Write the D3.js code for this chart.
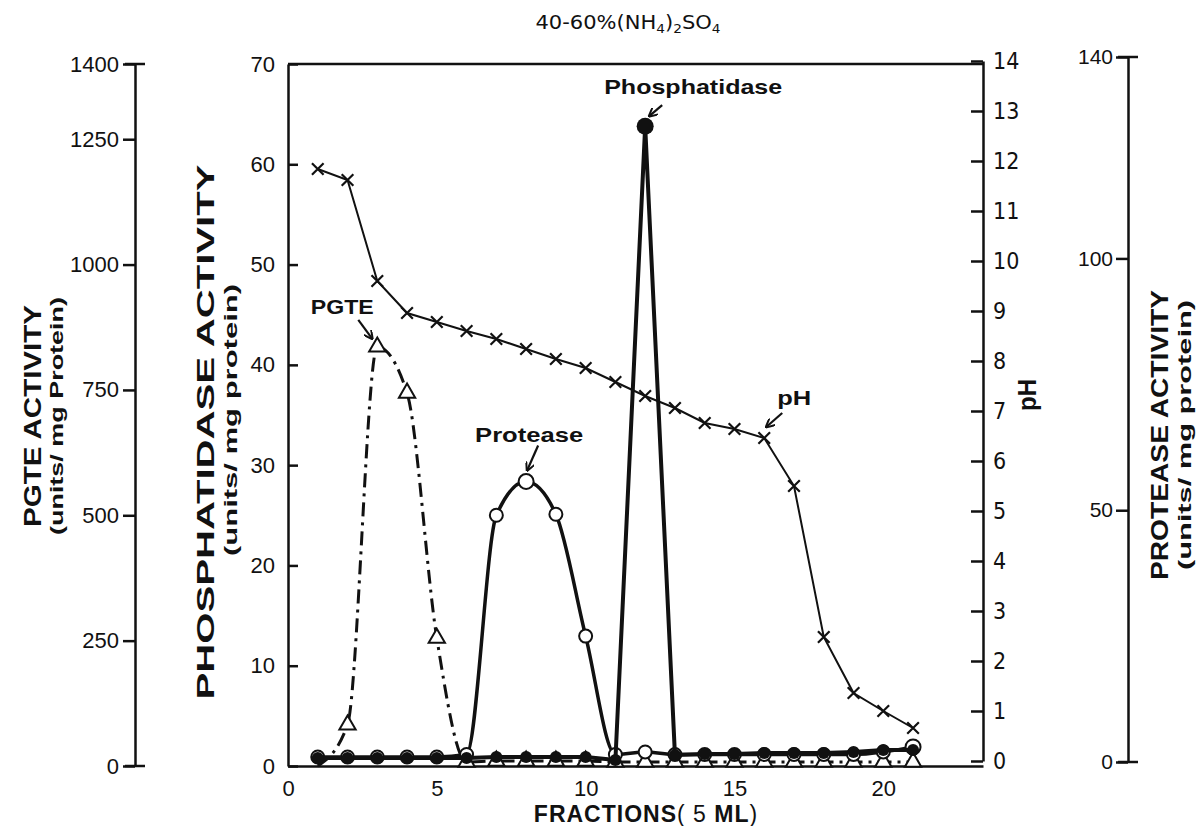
<!DOCTYPE html>
<html>
<head>
<meta charset="utf-8">
<script src="https://cdn.jsdelivr.net/npm/d3@7"></script>
<style>
  body { margin: 0; background: #fff; }
  text { fill: #111; }
</style>
</head>
<body>
<div id="chart"></div>
<script>
//Chromatography profile of the 40-60% ammonium sulphate fraction

//Data, one value per fraction
var fractions = [1, 2, 3, 4, 5, 6, 7, 8, 9, 10, 11, 12, 13, 14, 15, 16, 17, 18, 19, 20, 21];
var phValues = [11.84, 11.62, 9.60, 8.96, 8.78, 8.60, 8.44, 8.24, 8.04, 7.86, 7.58, 7.30, 7.06, 6.76, 6.64, 6.46, 5.50, 2.48, 1.36, 1.00, 0.66];
var phosphatidaseValues = [0.8, 0.8, 0.8, 0.8, 0.8, 0.8, 0.9, 0.9, 0.9, 0.9, 0.6, 63.8, 1.1, 1.2, 1.2, 1.3, 1.3, 1.3, 1.4, 1.6, 1.6];
var proteaseValues = [1, 1, 1, 1, 1, 1.5, 49, 55.7, 49.2, 25, 1.5, 2, 1.5, 1.5, 1.5, 1.5, 1.5, 1.5, 1.5, 2, 3];
var pgteValues = [0, 82, 836, 744, 255, 8, 10, 10, 10, 10, 8, 8, 8, 8, 8, 8, 8, 8, 8, 8, 8];

//Tick labels of the five axes
var fractionTicks = [0, 5, 10, 15, 20];
var pgteTicks = [0, 250, 500, 750, 1000, 1250, 1400];
var phosphatidaseTicks = [0, 10, 20, 30, 40, 50, 60, 70];
var phTicks = [0, 1, 2, 3, 4, 5, 6, 7, 8, 9, 10, 11, 12, 13, 14];
var proteaseTicks = [0, 50, 100, 140];

var svg;
var tickFont = "'Liberation Sans', Arial, sans-serif";
var narrowFont = "'DejaVu Sans Condensed', 'Liberation Sans Narrow', 'Liberation Sans', sans-serif";
var boldFont = "'Liberation Sans', Arial, sans-serif";

function drawChart()
{
    svg = d3.select("#chart").append("svg")
        .attr("width", 1199)
        .attr("height", 826);

    //Scales (plot box goes from x=288 to 983, y=64 to 766)
    var x = d3.scaleLinear().domain([0, 23.35]).range([288, 983]);
    var yPhos = d3.scaleLinear().domain([0, 70]).range([766, 64]);
    var yPgte = d3.scaleLinear().domain([0, 1400]).range([766, 64]);
    var yPh = d3.scaleLinear().domain([0, 14]).range([761, 61]);
    var yProt = d3.scaleLinear().domain([0, 140]).range([762, 57]);
    var plain = d3.format("d");

    //Arrow head for the annotations
    svg.append("defs").append("marker")
        .attr("id", "arrow")
        .attr("viewBox", "0 0 10 10")
        .attr("refX", 9)
        .attr("refY", 5)
        .attr("markerWidth", 9)
        .attr("markerHeight", 9)
        .attr("markerUnits", "userSpaceOnUse")
        .attr("orient", "auto")
        .append("path")
        .attr("d", "M0,0 L10,5 L0,10")
        .attr("fill", "none")
        .attr("stroke", "#111")
        .attr("stroke-width", 2.2);

    //Bottom axis (also the bottom of the frame)
    var xAxis = svg.append("g")
        .attr("transform", "translate(0," + yPhos(0) + ")")
        .call(d3.axisBottom(x).tickValues(fractionTicks).tickFormat(plain).tickSize(0).tickPadding(14));
    styleAxis(xAxis, tickFont, 22);

    //Top of the frame
    svg.append("line")
        .attr("x1", x(0)).attr("x2", x.range()[1])
        .attr("y1", yPhos(70)).attr("y2", yPhos(70))
        .attr("stroke", "#111").attr("stroke-width", 2.5);

    //Phosphatidase axis, ticks pointing inwards
    var phosAxis = svg.append("g")
        .attr("transform", "translate(" + x(0) + ",0)")
        .call(d3.axisLeft(yPhos).tickValues(phosphatidaseTicks).tickFormat(plain).tickSizeInner(-10).tickSizeOuter(0).tickPadding(13));
    styleAxis(phosAxis, tickFont, 22);

    //pH axis on the right of the frame
    var phAxis = svg.append("g")
        .attr("transform", "translate(" + x.range()[1] + ",0)")
        .call(d3.axisRight(yPh).tickValues(phTicks).tickFormat(plain).tickSizeInner(-12).tickSizeOuter(0).tickPadding(10));
    styleAxis(phAxis, narrowFont, 23);

    //Free standing PGTE axis on the far left
    var pgteAxis = svg.append("g")
        .attr("transform", "translate(135,0)")
        .call(d3.axisLeft(yPgte).tickValues(pgteTicks).tickFormat(plain).tickSizeInner(12).tickSizeOuter(0).tickPadding(4));
    styleAxis(pgteAxis, tickFont, 22);
    endBars(pgteAxis, yPgte);

    //Free standing protease axis on the far right
    var protAxis = svg.append("g")
        .attr("transform", "translate(1128,0)")
        .call(d3.axisLeft(yProt).tickValues(proteaseTicks).tickFormat(plain).tickSizeInner(12).tickSizeOuter(0).tickPadding(3));
    styleAxis(protAxis, tickFont, 21);
    endBars(protAxis, yProt);

    //PGTE curve (dash dot)
    var pgteLine = d3.line()
        .x(function(d, i) { return x(fractions[i]); })
        .y(function(d) { return yPgte(d); })
        .curve(d3.curveMonotoneX);

    svg.append("path")
        .attr("d", pgteLine(pgteValues))
        .attr("fill", "none")
        .attr("stroke", "#111")
        .attr("stroke-width", 3)
        .attr("stroke-dasharray", "14,6,3,6");

    //the first triangle sits under the phosphatidase dot in the figure
    svg.selectAll(".pgte")
        .data(pgteValues.slice(1))
        .enter()
        .append("path")
        .attr("class", "pgte")
        .attr("transform", function(d, i) { return "translate(" + x(fractions[i + 1]) + "," + yPgte(d) + ")"; })
        .attr("d", d3.symbol().type(d3.symbolTriangle).size(115))
        .attr("fill", "#fff")
        .attr("stroke", "#111")
        .attr("stroke-width", 2);

    //Protease curve (open circles)
    var protLine = d3.line()
        .x(function(d, i) { return x(fractions[i]); })
        .y(function(d) { return yProt(d); })
        .curve(d3.curveMonotoneX);

    svg.append("path")
        .attr("d", protLine(proteaseValues))
        .attr("fill", "none")
        .attr("stroke", "#111")
        .attr("stroke-width", 3.5);

    svg.selectAll(".prot")
        .data(proteaseValues)
        .enter()
        .append("circle")
        .attr("class", "prot")
        .attr("cx", function(d, i) { return x(fractions[i]); })
        .attr("cy", function(d) { return yProt(d); })
        .attr("r", function(d, i) { return i == 7 || i == 20 ? 7.5 : 6.5; })
        .attr("fill", "#fff")
        .attr("stroke", "#111")
        .attr("stroke-width", 2);

    //Phosphatidase (filled circles, thick line)
    var phosLine = d3.line()
        .x(function(d, i) { return x(fractions[i]); })
        .y(function(d) { return yPhos(d); });

    svg.append("path")
        .attr("d", phosLine(phosphatidaseValues))
        .attr("fill", "none")
        .attr("stroke", "#111")
        .attr("stroke-width", 4)
        .attr("stroke-linejoin", "round");

    svg.selectAll(".phos")
        .data(phosphatidaseValues)
        .enter()
        .append("circle")
        .attr("class", "phos")
        .attr("cx", function(d, i) { return x(fractions[i]); })
        .attr("cy", function(d) { return yPhos(d); })
        .attr("r", function(d) { return d > 10 ? 8.5 : 6; })
        .attr("fill", "#111");

    //pH (crosses, thin line)
    var phLine = d3.line()
        .x(function(d, i) { return x(fractions[i]); })
        .y(function(d) { return yPh(d); });

    svg.append("path")
        .attr("d", phLine(phValues))
        .attr("fill", "none")
        .attr("stroke", "#111")
        .attr("stroke-width", 2);

    var crossType = d3.symbolTimes || d3.symbolX;
    svg.selectAll(".ph")
        .data(phValues)
        .enter()
        .append("path")
        .attr("class", "ph")
        .attr("transform", function(d, i) { return "translate(" + x(fractions[i]) + "," + yPh(d) + ")"; })
        .attr("d", d3.symbol().type(crossType).size(90))
        .attr("fill", "none")
        .attr("stroke", "#111")
        .attr("stroke-width", 2.2);

    //Annotations with arrows
    annotate("Phosphatidase", x(12) + 48, yPhos(63.8) - 32, 178,
        [x(12) + 17, yPhos(63.8) - 21], [x(12) + 4, yPhos(63.8) - 10]);
    annotate("Protease", x(8) + 3, yProt(55.7) - 40, 108,
        [x(8) + 12, yProt(55.7) - 36], [x(8) + 1, yProt(55.7) - 11]);
    annotate("PGTE", x(3) - 35, yPgte(836) - 33, 63,
        [x(3) - 19, yPgte(836) - 27], [x(3) - 5, yPgte(836) - 8]);
    annotate("pH", x(16) + 30, yPh(6.46) - 33, 34,
        [x(16) + 18, yPh(6.46) - 25], [x(16) + 2, yPh(6.46) - 11]);

    //Title
    var title = svg.append("text")
        .attr("x", 628)
        .attr("y", 29)
        .attr("text-anchor", "middle")
        .attr("textLength", 185)
        .attr("lengthAdjust", "spacingAndGlyphs")
        .style("font-family", narrowFont)
        .style("font-size", "20px");
    title.append("tspan").text("40-60%(NH");
    title.append("tspan").attr("dy", 4).style("font-size", "13px").text("4");
    title.append("tspan").attr("dy", -4).text(")");
    title.append("tspan").attr("dy", 4).style("font-size", "13px").text("2");
    title.append("tspan").attr("dy", -4).text("SO");
    title.append("tspan").attr("dy", 4).style("font-size", "13px").text("4");

    //Axis titles
    var xTitle = svg.append("text")
        .attr("x", 646)
        .attr("y", 822)
        .attr("text-anchor", "middle")
        .style("font-family", boldFont)
        .style("font-size", "23px")
        .style("letter-spacing", "1px");
    xTitle.append("tspan").style("font-weight", "bold").text("FRACTIONS");
    xTitle.append("tspan").style("font-weight", "normal").text("( 5 ");
    xTitle.append("tspan").style("font-weight", "bold").text("ML");
    xTitle.append("tspan").style("font-weight", "normal").text(")");

    sideTitle("PGTE ACTIVITY", 41, 416, 24, 222);
    sideTitle("(units/ mg Protein)", 63, 416, 18, 238);
    sideTitle("PHOSPHATIDASE   ACTIVITY", 214, 432, 24, 535);
    sideTitle("(units/ mg protein)", 237, 420, 18, 272);
    sideTitle("pH", 1036, 395, 25, 32);
    sideTitle("PROTEASE ACTIVITY", 1168, 435, 24, 290);
    sideTitle("(units/ mg protein)", 1191, 435, 18, 270);
}

//Apply the look of the scanned figure to an axis group
function styleAxis(g, font, size)
{
    g.attr("font-family", null).attr("font-size", null);
    g.selectAll("path, line")
        .attr("stroke", "#111")
        .attr("stroke-width", 2.5);
    g.selectAll("text")
        .style("font-family", font)
        .style("font-size", size + "px")
        .style("fill", "#111");
}

//Small T shaped caps at both ends of the free axes
function endBars(g, scale)
{
    g.selectAll(".cap")
        .data(scale.domain())
        .enter()
        .append("line")
        .attr("class", "cap")
        .attr("x1", -10).attr("x2", 10)
        .attr("y1", function(d) { return scale(d); })
        .attr("y2", function(d) { return scale(d); })
        .attr("stroke", "#111")
        .attr("stroke-width", 2.5);
}

//Bold label with an arrow pointing to a mark
function annotate(label, tx, ty, len, from, to)
{
    svg.append("text")
        .attr("x", tx)
        .attr("y", ty)
        .attr("text-anchor", "middle")
        .attr("textLength", len)
        .attr("lengthAdjust", "spacingAndGlyphs")
        .style("font-family", boldFont)
        .style("font-weight", "bold")
        .style("font-size", "21px")
        .text(label);

    svg.append("line")
        .attr("x1", from[0]).attr("y1", from[1])
        .attr("x2", to[0]).attr("y2", to[1])
        .attr("stroke", "#111")
        .attr("stroke-width", 2.2)
        .attr("marker-end", "url(#arrow)");
}

//Rotated bold axis title, baseline at x
function sideTitle(label, x, y, size, len)
{
    svg.append("text")
        .attr("transform", "translate(" + x + "," + y + ") rotate(-90)")
        .attr("text-anchor", "middle")
        .attr("textLength", len)
        .attr("lengthAdjust", "spacingAndGlyphs")
        .style("font-family", boldFont)
        .style("font-weight", "bold")
        .style("font-size", size + "px")
        .text(label);
}

drawChart();
</script>
</body>
</html>
